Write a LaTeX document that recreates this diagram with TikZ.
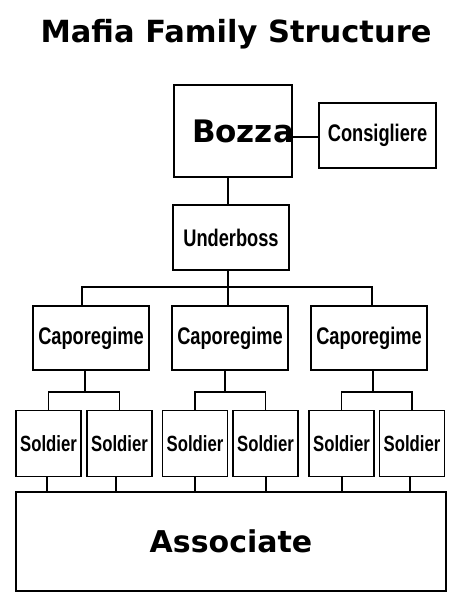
\documentclass[tikz,border=0pt]{standalone}
\usepackage{fontspec}
\setmainfont{DejaVu Sans}
\newfontfamily\widefont{DejaVu Sans}[BoldFont={DejaVu Sans Bold}]
\newfontfamily\narrowfont{Liberation Sans}[FakeStretch=0.76]
\usetikzlibrary{calc}

\tikzset{
  box/.style={draw, line width=1.6pt, rectangle, inner sep=0pt},
  link/.style={line width=1.3pt},
  rank/.style={font=\narrowfont\bfseries\fontsize{24}{26}\selectfont},
  soldierbox/.style={box, font=\narrowfont\bfseries\fontsize{22}{24}\selectfont,
    minimum width=65pt, minimum height=66pt}
}

\begin{document}
\begin{tikzpicture}[x=1pt, y=-1pt]
    % page frame in pixel units
    \useasboundingbox (0,0) rectangle (464,600);
    % Title
    \node[font=\widefont\bfseries\fontsize{30.5}{34}\selectfont] (title) at (236,34) {Mafia Family Structure};
    % Top of the family
    \node[box, minimum width=118pt, minimum height=92pt] (boss) at (233,131) {};
    \node[font=\widefont\bfseries\fontsize{31}{34}\selectfont] (bossname) at (243,131) {Bozza};
    \node[box, rank, minimum width=117pt, minimum height=65pt] (consig) at (377.5,135.5) {Consigliere};
    \node[box, rank, minimum width=116pt, minimum height=65pt] (under) at (231,237.5) {Underboss};
    % Caporegimes
    \node[box, rank, minimum width=116pt, minimum height=64pt] (capo1) at (91,338) {Caporegime};
    \node[box, rank, minimum width=116pt, minimum height=64pt] (capo2) at (230,338) {Caporegime};
    \node[box, rank, minimum width=116pt, minimum height=64pt] (capo3) at (369,338) {Caporegime};
    % Soldiers
    \foreach \i/\x in {1/48.5, 2/119.5, 3/195, 4/265.5, 5/341.5, 6/412}
      \node[soldierbox] (sold\i) at (\x,443.5) {Soldier};
    % Associates
    \node[box, minimum width=430pt, minimum height=99pt, font=\widefont\bfseries\fontsize{30}{33}\selectfont] (assoc) at (231,541.5) {Associate};
    % Connectors
    \draw[link] (boss.east |- 0,137) -- (consig.west |- 0,137);
    \draw[link] (boss.south -| 228,0) -- (under.north -| 228,0);
    \coordinate (bar) at (228,287);
    \draw[link] (under.south -| bar) -- (bar);
    \draw[link] (capo1.north -| 82,0) |- (bar) -| (capo3.north -| 372,0);
    \draw[link] (bar) -- (capo2.north -| bar);
    % Caporegime to soldiers
    \foreach \c/\a/\b/\m in {1/1/2/85, 2/3/4/225, 3/5/6/373} {
      \coordinate (split\c) at (\m,392);
      \draw[link] (capo\c.south -| split\c) -- (split\c);
      \draw[link] (sold\a.north) |- (split\c) -| (sold\b.north);
    }
    % Soldiers to associates
    \foreach \i/\x in {1/47, 2/116, 3/195, 4/266, 5/342, 6/410}
      \draw[link] (sold\i.south -| \x,0) -- (assoc.north -| \x,0);
\end{tikzpicture}
\end{document}
